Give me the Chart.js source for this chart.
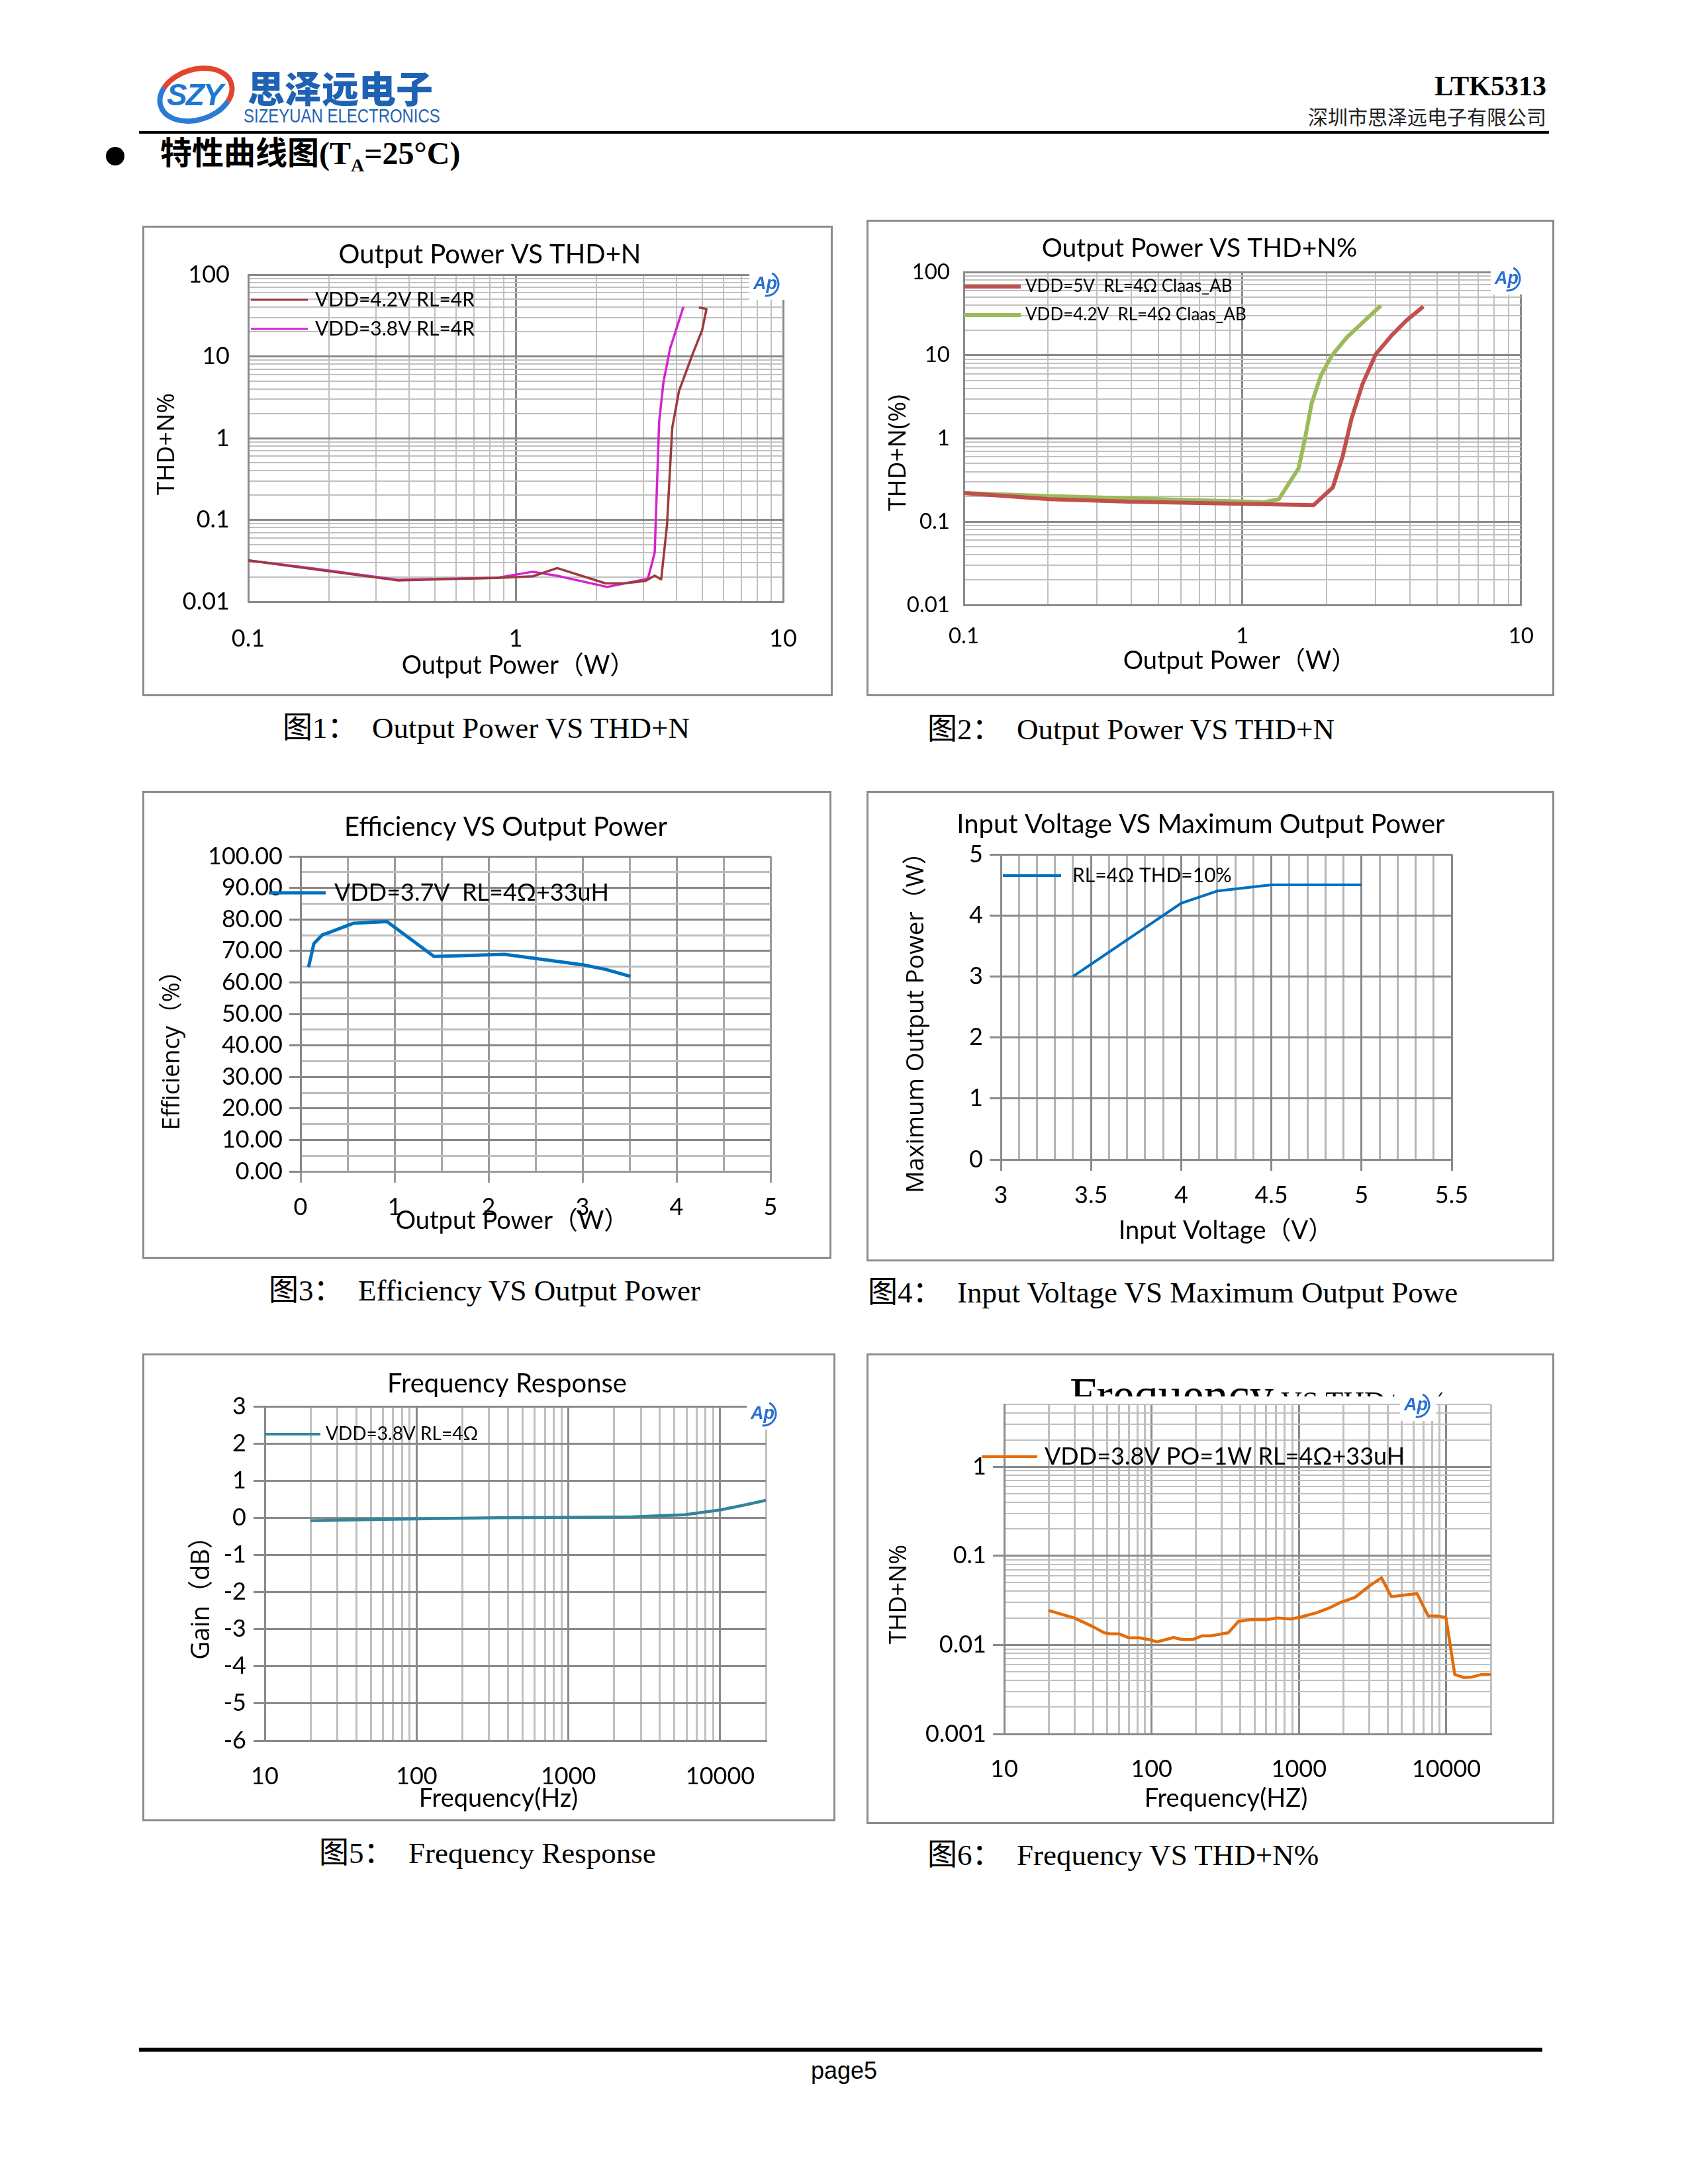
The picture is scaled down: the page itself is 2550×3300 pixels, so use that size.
<!DOCTYPE html>
<html>
<head>
<meta charset="utf-8">
<title>LTK5313 characteristic curves</title>
<script src="https://cdn.jsdelivr.net/npm/chart.js@4.4.1/dist/chart.umd.min.js"></script>
<style>
  body { margin: 0; background: #fff; }
  #page { position: relative; width: 2550px; height: 3300px; overflow: hidden; background: #fff; }
  .abs { position: absolute; white-space: nowrap; }
  .box { position: absolute; border: 3px solid #8c8c8c; }
  .box canvas { display: block; }
  .cap { position: absolute; font-family: "Liberation Serif", "Noto Sans CJK SC", serif; font-size: 45px; line-height: 1; white-space: nowrap; transform: translateY(-50%); }
  .cap .n { display: inline-block; width: 135px; }
</style>
</head>
<body>
<div id="page">
  <!-- header -->
  <div class="abs" style="left:236px;top:101px;width:120px;height:84px;border-radius:50%;border:8px solid;border-color:#e2452b #e2452b #2b7bd6 #2b7bd6;box-sizing:border-box;transform:rotate(-18deg);"></div>
  <div class="abs" style="left:252px;top:116px;font:italic 900 46px 'Liberation Sans',sans-serif;color:#1e78d2;letter-spacing:-2px;">SZY</div>
  <div class="abs" style="left:374px;top:100px;font:900 56px 'Noto Sans CJK SC',sans-serif;line-height:1.1;color:#1f62b4;">思泽远电子</div>
  <div class="abs" id="logoEn" style="left:368px;top:160px;font:30px 'Liberation Sans Narrow','Liberation Sans',sans-serif;line-height:1;color:#1f62b4;">SIZEYUAN ELECTRONICS</div>

  <div class="abs" style="right:214px;top:130px;transform:translateY(-50%);font:bold 42px 'Liberation Serif',serif;line-height:1;">LTK5313</div>
  <div class="abs" style="right:214px;top:175px;transform:translateY(-50%);font:30px 'Noto Sans CJK SC',sans-serif;line-height:1;color:#222;">深圳市思泽远电子有限公司</div>
  <div class="abs" style="left:210px;top:198px;width:2130px;height:4px;background:#000;"></div>

  <div class="abs" style="left:160px;top:222px;width:28px;height:28px;border-radius:50%;background:#000;"></div>
  <div class="abs" style="left:242px;top:236px;transform:translateY(-50%);font:bold 48px 'Liberation Serif','Noto Sans CJK SC',serif;line-height:1;">特性曲线图(T<sub style="font-size:28px;">A</sub>=25°C)</div>

  <!-- charts -->
  <div class="box" style="left:215px;top:341px;"><canvas id="c1" width="1037" height="705"></canvas></div>
  <div class="box" style="left:1309px;top:332px;"><canvas id="c2" width="1033" height="714"></canvas></div>
  <div class="box" style="left:215px;top:1195px;"><canvas id="c3" width="1035" height="701"></canvas></div>
  <div class="box" style="left:1309px;top:1195px;"><canvas id="c4" width="1033" height="705"></canvas></div>
  <div class="box" style="left:215px;top:2045px;"><canvas id="c5" width="1041" height="701"></canvas></div>
  <div class="box" style="left:1309px;top:2045px;"><canvas id="c6" width="1033" height="705"></canvas></div>

  <!-- captions -->
  <div class="cap" style="left:427px;top:1100px;"><span class="n">图1：</span>Output Power VS THD+N</div>
  <div class="cap" style="left:1401px;top:1102px;"><span class="n">图2：</span>Output Power VS THD+N</div>
  <div class="cap" style="left:406px;top:1950px;"><span class="n">图3：</span>Efficiency VS Output Power</div>
  <div class="cap" style="left:1311px;top:1953px;"><span class="n">图4：</span>Input Voltage VS Maximum Output Powe</div>
  <div class="cap" style="left:482px;top:2800px;"><span class="n">图5：</span>Frequency Response</div>
  <div class="cap" style="left:1401px;top:2803px;"><span class="n">图6：</span>Frequency VS THD+N%</div>

  <!-- footer -->
  <div class="abs" style="left:210px;top:3094px;width:2120px;height:6px;background:#000;"></div>
  <div class="abs" style="left:1275px;top:3129px;transform:translate(-50%,-50%);font:36px 'Liberation Sans',sans-serif;line-height:1;">page5</div>
</div>

<script>
// ---------- data ----------
// fig 1: output power (W) vs THD+N (%)
const vdd42Power = [0.1, 0.172, 0.361, 0.887, 1.158, 1.43, 2.17, 2.53, 3.06, 3.31, 3.50, 3.68, 3.85, 4.08, 4.58, 4.98, 5.17, 4.84];
const vdd42Thd = [0.0319, 0.0251, 0.0182, 0.0196, 0.0204, 0.0257, 0.0167, 0.0167, 0.0179, 0.0208, 0.0187, 0.0857, 1.34, 3.76, 10.5, 20.9, 38, 39.7];
const vdd38Power = [0.1, 0.172, 0.361, 0.855, 1.158, 1.43, 2.20, 3.12, 3.31, 3.44, 3.57, 3.78, 4.24];
const vdd38Thd = [0.0319, 0.0257, 0.0185, 0.0196, 0.0232, 0.0207, 0.0151, 0.019, 0.0395, 1.59, 4.86, 12.5, 40.5];

// fig 2: class AB curves
const ab5Power = [0.1, 0.203, 0.392, 1.0, 1.80, 2.11, 2.29, 2.46, 2.70, 3.01, 3.42, 3.88, 4.46];
const ab5Thd = [0.221, 0.186, 0.174, 0.164, 0.158, 0.258, 0.615, 1.71, 4.56, 10.3, 17.1, 26.2, 38.5];
const ab42Power = [0.1, 0.203, 1.0, 1.19, 1.35, 1.59, 1.68, 1.77, 1.91, 2.09, 2.37, 2.75, 3.14];
const ab42Thd = [0.221, 0.203, 0.175, 0.171, 0.186, 0.437, 1.03, 2.62, 5.65, 9.84, 16.4, 26.2, 39.5];

// fig 3: efficiency
const effPower = [0.085, 0.142, 0.236, 0.283, 0.566, 0.92, 1.42, 2.17, 3.0, 3.25, 3.51];
const effPercent = [64.8, 72.3, 75.2, 75.6, 78.8, 79.3, 68.2, 68.9, 65.6, 64.1, 61.9];

// fig 4: input voltage vs max output power
const vinVolts = [3.4, 3.6, 3.8, 4.0, 4.2, 4.5, 5.0];
const vinMaxPower = [3.0, 3.4, 3.8, 4.2, 4.4, 4.5, 4.5];

// fig 5: frequency response
const frFreq = [20, 45, 100, 344, 1000, 2594, 5840, 10000, 14000, 20000];
const frGain = [-0.08, -0.05, -0.03, 0.0, 0.01, 0.025, 0.08, 0.21, 0.33, 0.47];

// fig 6: frequency vs THD+N
const fThdFreq = [20, 30, 40, 47.6, 52, 60, 70, 83, 95, 109, 141, 160, 191, 219, 250, 332, 389, 470, 599, 711, 877, 1000,
  1327, 1636, 1880, 2397, 3057, 3631, 4236, 5142, 6327, 7533, 8650, 9931, 11400, 13100, 15000, 17300, 20000];
const fThdValue = [0.0243, 0.0200, 0.0160, 0.0137, 0.0133, 0.0133, 0.0120, 0.0120, 0.0115, 0.0108, 0.0121, 0.0115, 0.0115,
  0.0126, 0.0126, 0.0137, 0.0184, 0.0192, 0.0192, 0.0200, 0.0195, 0.0203, 0.0230, 0.0263, 0.0296, 0.0341, 0.0468, 0.0565,
  0.0347, 0.0361, 0.0375, 0.0211, 0.0211, 0.0203, 0.00465, 0.0043, 0.00436, 0.00465, 0.00465];

// tick labels
const powerLogTicks = [0.1, 1, 10];
const powerLogLabels = ['0.1', '1', '10'];
const thdLogTicks = [0.01, 0.1, 1, 10, 100];
const thdLogLabels = ['0.01', '0.1', '1', '10', '100'];
const effXTicks = [0, 1, 2, 3, 4, 5];
const effXLabels = ['0', '1', '2', '3', '4', '5'];
const effYTicks = [0, 10, 20, 30, 40, 50, 60, 70, 80, 90, 100];
const effYLabels = ['0.00', '10.00', '20.00', '30.00', '40.00', '50.00', '60.00', '70.00', '80.00', '90.00', '100.00'];
const vinXTicks = [3, 3.5, 4, 4.5, 5, 5.5];
const vinXLabels = ['3', '3.5', '4', '4.5', '5', '5.5'];
const vinYTicks = [0, 1, 2, 3, 4, 5];
const vinYLabels = ['0', '1', '2', '3', '4', '5'];
const freqTicks = [10, 100, 1000, 10000];
const freqLabels = ['10', '100', '1000', '10000'];
const gainTicks = [-6, -5, -4, -3, -2, -1, 0, 1, 2, 3];
const gainLabels = ['-6', '-5', '-4', '-3', '-2', '-1', '0', '1', '2', '3'];
const fThdTicks = [0.001, 0.01, 0.1, 1];
const fThdLabels = ['0.001', '0.01', '0.1', '1'];

// ---------- helpers ----------
const FONT = 'Lato, "Noto Sans CJK SC", sans-serif';
const WIDE = '"Open Sans", "Noto Sans CJK SC", sans-serif';
const DARK = '#8a8a8a';
const LIGHT = '#c0c0c0';

function pairs(xs, ys) {
  return xs.map((x, i) => ({ x: x, y: ys[i] }));
}

// grid positions for a log axis: 1..9 x 10^n
function logSteps(min, max) {
  const out = [];
  for (let e = Math.floor(Math.log10(min)); e <= Math.ceil(Math.log10(max)); e++) {
    for (let k = 1; k <= 9; k++) {
      const v = parseFloat((k * Math.pow(10, e)).toPrecision(6));
      if (v >= min * 0.9999 && v <= max * 1.0001) out.push(v);
    }
  }
  return out;
}

function linSteps(min, max, step) {
  const out = [];
  const n = Math.round((max - min) / step);
  for (let i = 0; i <= n; i++) out.push(parseFloat((min + i * step).toFixed(6)));
  return out;
}

function near(a, b) {
  return Math.abs(a - b) < 1e-9 * Math.max(1, Math.abs(b));
}

function axis(o) {
  const isMajor = v => o.majors.some(m => near(v, m));
  const label = v => {
    const i = o.majors.findIndex(m => near(v, m));
    return i < 0 ? '' : o.labels[i];
  };
  const pick = (c, a, b) => (c.tick && isMajor(c.tick.value)) ? a : b;
  return {
    type: o.type,
    min: o.min,
    max: o.max,
    afterBuildTicks: s => { s.ticks = o.steps.map(v => ({ value: v })); },
    afterFit: s => { if (o.x) s.height = o.size; else s.width = o.size; },
    ticks: {
      autoSkip: false, maxRotation: 0, minRotation: 0,
      padding: o.pad, color: '#000',
      font: { family: FONT, size: o.font },
      callback: v => label(v)
    },
    grid: {
      color: c => pick(c, o.major[0], o.minor[0]),
      lineWidth: c => pick(c, o.major[1], o.minor[1]),
      drawTicks: !!o.tick,
      tickLength: o.tick || 0,
      tickWidth: 3,
      tickColor: c => pick(c, o.major[0], 'rgba(0,0,0,0)')
    },
    border: { display: true, color: o.major[0], width: o.major[1] }
  };
}

function drawAp(ctx, x, y) {
  ctx.save();
  ctx.fillStyle = '#fff';
  ctx.fillRect(x - 27, y - 24, 54, 48);
  ctx.fillStyle = '#2a6fd1';
  ctx.font = 'italic bold 27px "Liberation Sans", sans-serif';
  ctx.textAlign = 'center';
  ctx.textBaseline = 'middle';
  ctx.fillText('Ap', x - 3, y + 1);
  ctx.strokeStyle = '#2a6fd1';
  ctx.lineWidth = 3;
  ctx.beginPath();
  ctx.arc(x - 1, y, 18, -1.1, 1.7);
  ctx.stroke();
  ctx.restore();
}

// titles, in-plot legends and the Ap mark
function annotations(cfg) {
  return {
    id: 'annot',
    afterDraw(chart) {
      const ctx = chart.ctx;
      (cfg.texts || []).forEach(t => {
        ctx.save();
        ctx.font = t.font;
        ctx.fillStyle = '#000';
        ctx.textAlign = 'center';
        ctx.textBaseline = 'middle';
        ctx.translate(t.x, t.y);
        if (t.rot) ctx.rotate(-Math.PI / 2);
        ctx.fillText(t.text, 0, 0);
        ctx.restore();
      });
      if (cfg.clipTitle) {
        const c = cfg.clipTitle;
        ctx.save();
        ctx.beginPath();
        ctx.rect(0, 0, chart.width, c.clip);
        ctx.clip();
        ctx.fillStyle = '#000';
        ctx.textAlign = 'left';
        ctx.textBaseline = 'alphabetic';
        let x = c.x;
        c.parts.forEach(p => {
          ctx.font = p.font;
          ctx.fillText(p.text, x, c.y);
          x += ctx.measureText(p.text).width;
        });
        ctx.restore();
      }
      if (cfg.legend) {
        const L = cfg.legend;
        chart.data.datasets.forEach((ds, i) => {
          const y = L.y + i * (L.gap || 0);
          ctx.save();
          ctx.strokeStyle = ds.borderColor;
          ctx.lineWidth = L.lw;
          ctx.beginPath();
          ctx.moveTo(L.x0, y);
          ctx.lineTo(L.x1, y);
          ctx.stroke();
          ctx.font = L.font;
          ctx.fillStyle = '#000';
          ctx.textAlign = 'left';
          ctx.textBaseline = 'middle';
          ctx.fillText(ds.label, L.tx, y);
          ctx.restore();
        });
      }
      if (cfg.ap) drawAp(ctx, cfg.ap.x, cfg.ap.y);
    }
  };
}

function lineChart(id, series, xAxis, yAxis, pad, annot) {
  return new Chart(document.getElementById(id), {
    type: 'line',
    data: {
      datasets: series.map(s => ({
        label: s.label, data: s.data, borderColor: s.color, borderWidth: s.width,
        pointRadius: 0, tension: 0, fill: false, borderJoinStyle: 'round'
      }))
    },
    options: {
      responsive: false,
      animation: false,
      devicePixelRatio: 1,
      layout: { padding: { top: pad[0], right: pad[1], bottom: 0, left: 0 } },
      plugins: { legend: { display: false }, title: { display: false }, tooltip: { enabled: false } },
      scales: { x: xAxis, y: yAxis }
    },
    plugins: [annotations(annot)]
  });
}

// ---------- fig 1 ----------
lineChart('c1', [
  { label: 'VDD=4.2V RL=4R', data: pairs(vdd42Power, vdd42Thd), color: '#9c3b3b', width: 3.5 },
  { label: 'VDD=3.8V RL=4R', data: pairs(vdd38Power, vdd38Thd), color: '#d424cf', width: 3.5 }
],
  axis({ x: true, type: 'logarithmic', min: 0.1, max: 10, steps: logSteps(0.1, 10), majors: powerLogTicks, labels: powerLogLabels,
    size: 140, pad: 35, font: 36, major: [DARK, 3], minor: [LIGHT, 2] }),
  axis({ type: 'logarithmic', min: 0.01, max: 100, steps: logSteps(0.01, 100), majors: thdLogTicks, labels: thdLogLabels,
    size: 157, pad: 28, font: 36, major: [DARK, 3], minor: [LIGHT, 2] }),
  [71, 72],
  {
    texts: [
      { text: 'Output Power VS THD+N', x: 522, y: 41, font: `40px ${FONT}` },
      { text: 'THD+N%', x: 34, y: 327, rot: true, font: `37px ${WIDE}` },
      { text: 'Output Power（W）', x: 565, y: 662, font: `38px ${FONT}` }
    ],
    legend: { x0: 161, x1: 247, y: 109, gap: 44, tx: 258, font: `30px ${FONT}`, lw: 3 },
    ap: { x: 941, y: 85 }
  });

// ---------- fig 2 ----------
lineChart('c2', [
  { label: 'VDD=5V  RL=4Ω Claas_AB', data: pairs(ab5Power, ab5Thd), color: '#c0504d', width: 6 },
  { label: 'VDD=4.2V  RL=4Ω Claas_AB', data: pairs(ab42Power, ab42Thd), color: '#9bbb59', width: 6 }
],
  axis({ x: true, type: 'logarithmic', min: 0.1, max: 10, steps: logSteps(0.1, 10), majors: powerLogTicks, labels: powerLogLabels,
    size: 135, pad: 28, font: 33, major: [DARK, 3], minor: [LIGHT, 2] }),
  axis({ type: 'logarithmic', min: 0.01, max: 100, steps: logSteps(0.01, 100), majors: thdLogTicks, labels: thdLogLabels,
    size: 144, pad: 21, font: 33, major: [DARK, 3], minor: [LIGHT, 2] }),
  [76, 38],
  {
    texts: [
      { text: 'Output Power VS THD+N%', x: 500, y: 40, font: `39px ${FONT}` },
      { text: 'THD+N(%)', x: 45, y: 349, rot: true, font: `37px ${WIDE}` },
      { text: 'Output Power（W）', x: 561, y: 664, font: `38px ${FONT}` }
    ],
    legend: { x0: 144, x1: 230, y: 98, gap: 43, tx: 237, font: `26px ${FONT}`, lw: 6 },
    ap: { x: 967, y: 86 }
  });

// ---------- fig 3 ----------
lineChart('c3', [
  { label: 'VDD=3.7V  RL=4Ω+33uH', data: pairs(effPower, effPercent), color: '#0070c0', width: 5 }
],
  axis({ x: true, type: 'linear', min: 0, max: 5, steps: linSteps(0, 5, 0.5), majors: effXTicks, labels: effXLabels,
    size: 129, pad: 16, tick: 17, font: 36, major: ['#9a9a9a', 3], minor: ['#a8a8a8', 3] }),
  axis({ type: 'linear', min: 0, max: 100, steps: linSteps(0, 100, 5), majors: effYTicks, labels: effYLabels,
    size: 236, pad: 10, tick: 17, font: 36, major: ['#878787', 3], minor: ['#bdbdbd', 3] }),
  [96, 89],
  {
    texts: [
      { text: 'Efficiency VS Output Power', x: 546, y: 52, font: `40px ${FONT}` },
      { text: 'Efficiency（%）', x: 43, y: 380, rot: true, font: `36px ${WIDE}` },
      { text: 'Output Power（W）', x: 556, y: 647, font: `38px ${FONT}` }
    ],
    legend: { x0: 188, x1: 274, y: 151, tx: 287, font: `36px ${FONT}`, lw: 5 }
  });

// ---------- fig 4 ----------
lineChart('c4', [
  { label: 'RL=4Ω THD=10%', data: pairs(vinVolts, vinMaxPower), color: '#0070c0', width: 4 }
],
  axis({ x: true, type: 'linear', min: 3, max: 5.5, steps: linSteps(3, 5.5, 0.1), majors: vinXTicks, labels: vinXLabels,
    size: 151, pad: 16, tick: 17, font: 36, major: ['#8a8a8a', 3], minor: ['#b4b4b4', 3] }),
  axis({ type: 'linear', min: 0, max: 5, steps: linSteps(0, 5, 1), majors: vinYTicks, labels: vinYLabels,
    size: 200, pad: 10, tick: 17, font: 36, major: ['#8a8a8a', 3], minor: ['#8a8a8a', 3] }),
  [93, 152],
  {
    texts: [
      { text: 'Input Voltage VS Maximum Output Power', x: 502, y: 48, font: `40px ${FONT}` },
      { text: 'Maximum Output Power（W）', x: 72, y: 338, rot: true, font: `37px ${WIDE}` },
      { text: 'Input Voltage（V）', x: 540, y: 662, font: `38px ${FONT}` }
    ],
    legend: { x0: 203, x1: 291, y: 125, tx: 308, font: `30px ${FONT}`, lw: 4 }
  });

// ---------- fig 5 ----------
lineChart('c5', [
  { label: 'VDD=3.8V RL=4Ω', data: pairs(frFreq, frGain), color: '#31859c', width: 4.5 }
],
  axis({ x: true, type: 'logarithmic', min: 10, max: 20000, steps: logSteps(10, 20000), majors: freqTicks, labels: freqLabels,
    size: 119, pad: 33, font: 36, major: [DARK, 3], minor: [LIGHT, 3] }),
  axis({ type: 'linear', min: -6, max: 3, steps: linSteps(-6, 3, 1), majors: gainTicks, labels: gainLabels,
    size: 182, pad: 11, tick: 17, font: 36, major: [DARK, 3], minor: [DARK, 3] }),
  [77, 102],
  {
    texts: [
      { text: 'Frequency Response', x: 548, y: 43, font: `40px ${FONT}` },
      { text: 'Gain（dB）', x: 87, y: 357, rot: true, font: `38px ${WIDE}` },
      { text: 'Frequency(Hz)', x: 535, y: 670, font: `38px ${FONT}` }
    ],
    legend: { x0: 182, x1: 266, y: 119, tx: 274, font: `28px ${FONT}`, lw: 4 },
    ap: { x: 937, y: 88 }
  });

// ---------- fig 6 ----------
lineChart('c6', [
  { label: 'VDD=3.8V PO=1W RL=4Ω+33uH', data: pairs(fThdFreq, fThdValue), color: '#e46c0a', width: 4.5 }
],
  axis({ x: true, type: 'logarithmic', min: 10, max: 20000, steps: logSteps(10, 20000), majors: freqTicks, labels: freqLabels,
    size: 133, pad: 32, font: 36, major: [DARK, 3], minor: [LIGHT, 3] }),
  axis({ type: 'logarithmic', min: 0.001, max: 5, steps: logSteps(0.001, 5), majors: fThdTicks, labels: fThdLabels,
    size: 205, pad: 10, tick: 17, font: 36, major: [DARK, 3], minor: [LIGHT, 2] }),
  [74, 93],
  {
    texts: [
      { text: 'THD+N%', x: 47, y: 361, rot: true, font: `36px ${WIDE}` },
      { text: 'Frequency(HZ)', x: 540, y: 670, font: `38px ${FONT}` }
    ],
    clipTitle: { x: 304, y: 85, clip: 62, parts: [
      { text: 'Frequency', font: '73px "Liberation Serif", serif' },
      { text: ' VS THD+N%', font: '44px "Liberation Serif", serif' }
    ] },
    legend: { x0: 171, x1: 255, y: 153, tx: 266, font: `36px ${FONT}`, lw: 4 },
    ap: { x: 830, y: 75 }
  });

// squeeze the english logo line to its width
const en = document.getElementById('logoEn');
en.style.transformOrigin = 'left top';
en.style.transform = 'scaleX(' + (297 / en.scrollWidth) + ')';
</script>
</body>
</html>
